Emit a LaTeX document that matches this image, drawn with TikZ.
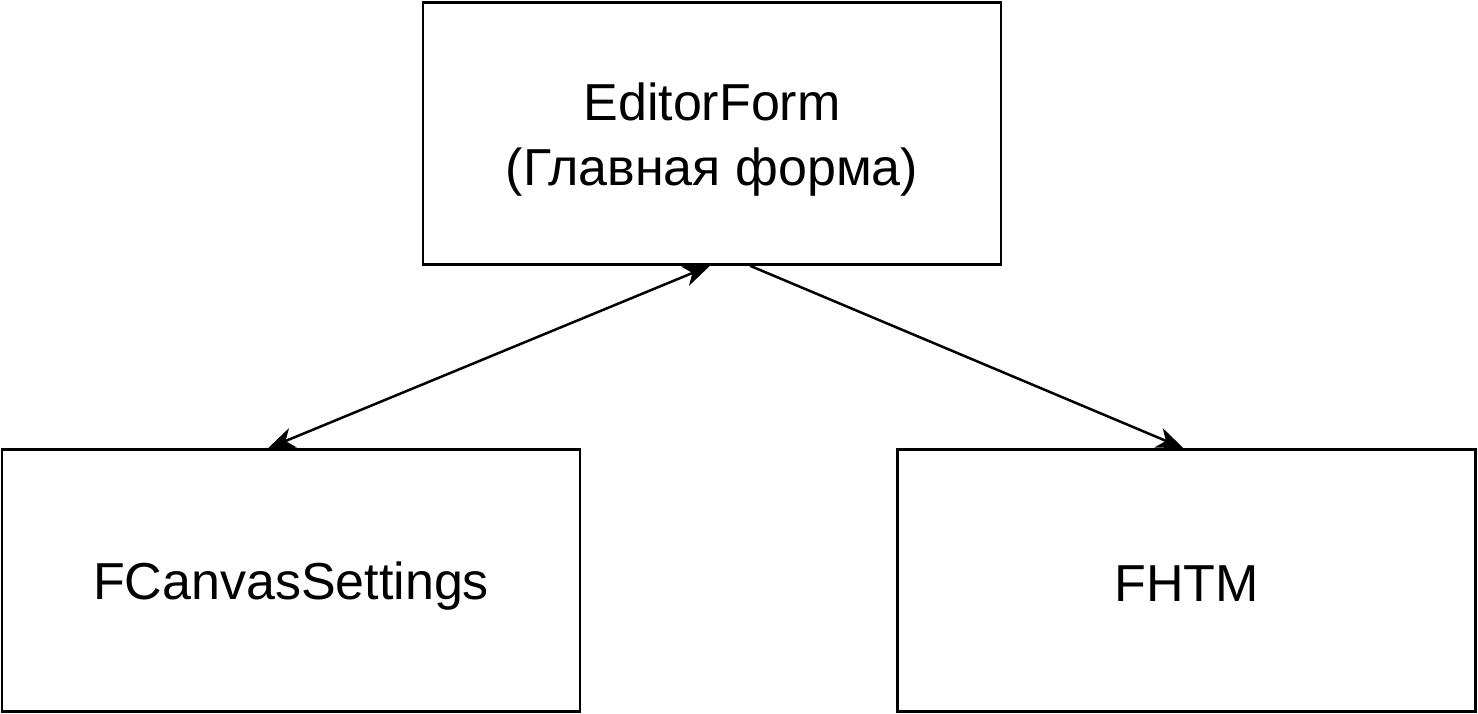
\documentclass[tikz,border=0pt]{standalone}
\usepackage{fontspec}
\setmainfont{Liberation Sans}
\usetikzlibrary{arrows.meta}
\begin{document}
\begin{tikzpicture}[x=1pt,y=1pt,
  box/.style={draw,line width=2.5pt,minimum width=578pt,minimum height=262pt,inner sep=0pt},
  lbl/.style={inner sep=0pt,align=center,font=\fontsize{52}{65}\selectfont},
  tipa/.tip={Stealth[length=27pt,width=21pt,inset=8pt]},
  conn/.style={line width=2.5pt,-tipa},
  conn2/.style={line width=2.5pt,tipa-tipa}]
\useasboundingbox (0,0) rectangle (1478,-714);
\node[box] (top) at (712,-133.5) {};
\node[box] (left) at (291,-580.5) {};
\node[box] (right) at (1186.5,-580.5) {};
\node[lbl] (topt) at ([yshift=-6pt]top.center) {EditorForm\\(Главная форма)};
\node[lbl] (leftt) at ([yshift=-6pt]left.center) {FCanvasSettings};
\node[lbl] (rightt) at ([yshift=-3pt]right.center) {FHTM};
\draw[conn2] ([xshift=-2pt]top.south) -- ([xshift=-23pt]left.north);
\draw[conn] ([xshift=38pt]top.south) -- ([xshift=-3pt]right.north);
\end{tikzpicture}
\end{document}
